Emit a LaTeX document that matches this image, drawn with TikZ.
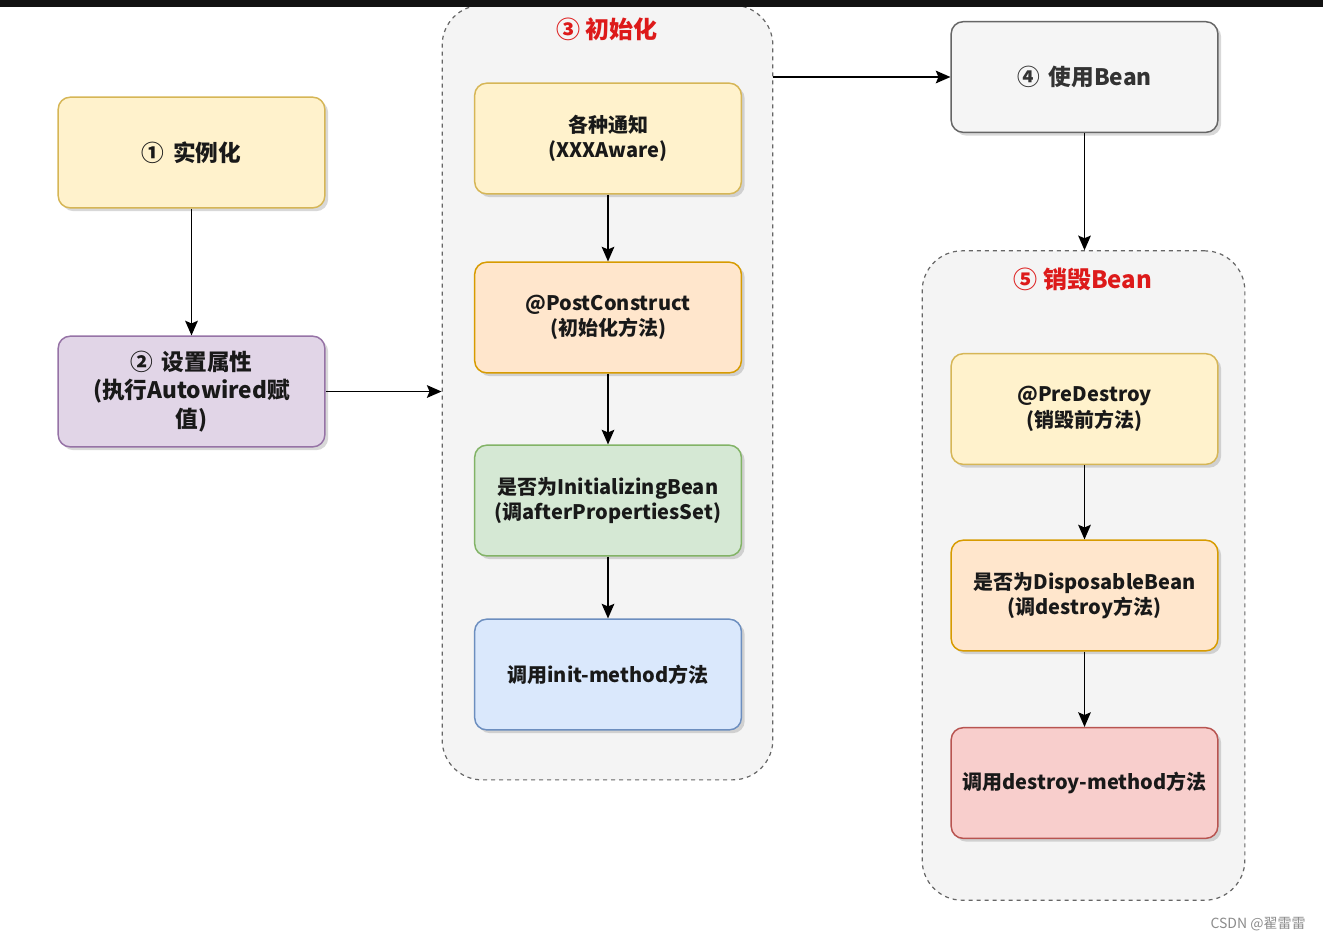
\documentclass[tikz,border=0pt]{standalone}
\usepackage{fontspec}
\setmainfont{Noto Sans CJK SC}
\usetikzlibrary{arrows.meta,shadows}
\definecolor{ylwF}{HTML}{FFF2CC}\definecolor{ylwD}{HTML}{D6B656}
\definecolor{prpF}{HTML}{E1D5E7}\definecolor{prpD}{HTML}{9673A6}
\definecolor{orgF}{HTML}{FFE6CC}\definecolor{orgD}{HTML}{D79B00}
\definecolor{grnF}{HTML}{D5E8D4}\definecolor{grnD}{HTML}{82B366}
\definecolor{bluF}{HTML}{DAE8FC}\definecolor{bluD}{HTML}{6C8EBF}
\definecolor{gryF}{HTML}{F5F5F5}\definecolor{gryD}{HTML}{666666}
\definecolor{redF}{HTML}{F8CECC}\definecolor{redD}{HTML}{B85450}
\definecolor{ttlRed}{HTML}{DD1A1A}
\definecolor{contF}{HTML}{F4F4F4}
\begin{document}
\begin{tikzpicture}[x=0.75pt,y=-0.75pt,
  stepbox/.style={rounded corners=9pt,line width=1.1pt,minimum width=200pt,minimum height=83pt,
    align=center,font=\bfseries\fontsize{15}{19}\selectfont,text=black!90,
    drop shadow={shadow xshift=2.5pt,shadow yshift=-2.5pt,opacity=0.3,fill=gray}},
  bigtext/.style={font=\bfseries\fontsize{17}{21.5}\selectfont},
  ylw/.style={stepbox,fill=ylwF,draw=ylwD},
  prp/.style={stepbox,fill=prpF,draw=prpD},
  org/.style={stepbox,fill=orgF,draw=orgD},
  grn/.style={stepbox,fill=grnF,draw=grnD},
  blu/.style={stepbox,fill=bluF,draw=bluD},
  gry/.style={stepbox,fill=gryF,draw=gryD,text=black!80},
  rdd/.style={stepbox,fill=redF,draw=redD},
  group/.style={draw=gryD,dashed,line width=0.9pt,fill=contF,rounded corners=30pt},
  ttl/.style={text=ttlRed,font=\bfseries\fontsize{18}{22}\selectfont},
  conn/.style={line width=1.1pt,-{Stealth[length=11pt,width=9.5pt,inset=2pt]}}
]
\useasboundingbox (0,0) rectangle (1323,940);
\fill[white] (0,0) rectangle (1323,940);
% containers
\node[group,minimum width=248pt,minimum height=581pt] (c3) at (607.5,392.5) {};
\node[group,minimum width=242pt,minimum height=487pt] (c5) at (1083.5,575.5) {};
\node[ttl] (t3) at (607,29) {③ 初始化};
\node[ttl] (t5) at (1083,279) {⑤ 销毁Bean};
% boxes
\node[ylw,bigtext] (b1) at (191.5,152.5) {①\, 实例化};
\node[prp,bigtext] (b2) at (191.5,391.5) {②\, 设置属性\\(执行Autowired赋\\值)};
\node[ylw] (ba) at (608,138.5) {各种通知\\(XXXAware)};
\node[org] (bb) at (608,317.5) {@PostConstruct\\(初始化方法)};
\node[grn] (bc) at (608,500.5) {是否为InitializingBean\\(调afterPropertiesSet)};
\node[blu] (bd) at (608,674.5) {调用init-method方法};
\node[gry,bigtext] (b4) at (1084.5,77) {④\, 使用Bean};
\node[ylw] (be) at (1084.5,409) {@PreDestroy\\(销毁前方法)};
\node[org] (bf) at (1084.5,595.5) {是否为DisposableBean\\(调destroy方法)};
\node[rdd] (bg) at (1084.5,783) {调用destroy-method方法};
% connectors
\draw[conn] (b1) -- (b2);
\draw[conn] (b2.east) -- (b2.east -| c3.west);
\draw[conn] (ba) -- (bb);
\draw[conn] (bb) -- (bc);
\draw[conn] (bc) -- (bd);
\draw[conn] (b4.west -| c3.east) -- (b4.west);
\draw[conn] (b4.south) -- (b4.south |- c5.north);
\draw[conn] (be) -- (bf);
\draw[conn] (bf) -- (bg);
% top bar and watermark
\fill[black!93] (0,0) rectangle (1323,7);
\node[text=black!45,font=\fontsize{10.5}{12}\selectfont] (wm) at (1258,924) {CSDN @翟雷雷};
\end{tikzpicture}
\end{document}
